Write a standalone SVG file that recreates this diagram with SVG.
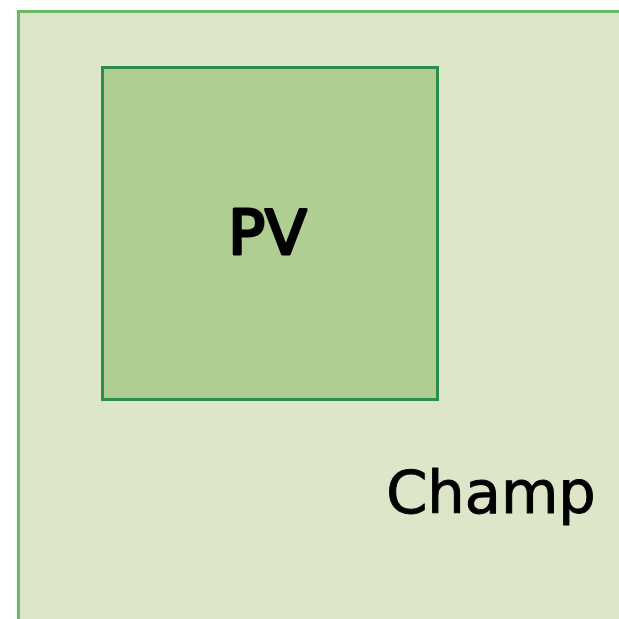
<svg xmlns="http://www.w3.org/2000/svg" width="619" height="619" viewBox="0 0 619 619">
<style>
.lbl{font-family:"DejaVu Sans","Liberation Sans",sans-serif;fill:#000;stroke:#000;stroke-linejoin:round}
</style>
<rect width="619" height="619" fill="#ffffff"/>
<g id="champ">
<rect x="18.5" y="11.5" width="610" height="620" fill="#dde6c8" stroke="#6db862" stroke-width="3"/>
<text class="lbl" x="491" y="513" font-size="59" stroke-width="1" text-anchor="middle">Champ</text>
</g>
<g id="pv">
<rect x="102.5" y="67.5" width="335" height="332" fill="#b0cd92" stroke="#2a8f4a" stroke-width="3"/>
<text class="lbl" x="267.5" y="254" font-size="61" stroke-width="3" text-anchor="middle">PV</text>
</g>
</svg>
